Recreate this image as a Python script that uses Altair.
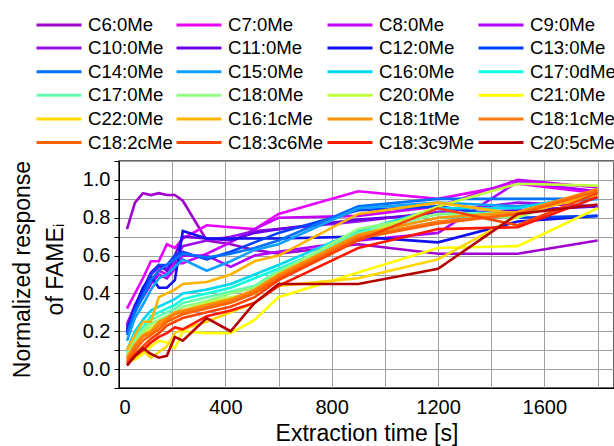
import altair as alt
import pandas as pd

times = [30, 60, 90, 120, 150, 180, 210, 240, 330, 420, 510, 600, 900, 1200, 1500, 1800]

names = ["C6:0Me", "C7:0Me", "C8:0Me", "C9:0Me",
         "C10:0Me", "C11:0Me", "C12:0Me", "C13:0Me",
         "C14:0Me", "C15:0Me", "C16:0Me", "C17:0dMe",
         "C17:0Me", "C18:0Me", "C20:0Me", "C21:0Me",
         "C22:0Me", "C16:1cMe", "C18:1tMe", "C18:1cMe",
         "C18:2cMe", "C18:3c6Me", "C18:3c9Me", "C20:5cMe"]

colors = ["#a000d0", "#e800ff", "#c800ff", "#b000ff",
          "#9a10f0", "#6a00e6", "#1010f0", "#0040ff",
          "#0070ff", "#10a0ff", "#00d8f0", "#10ffe0",
          "#60ffb0", "#90ff80", "#c0ff40", "#ffff00",
          "#ffd800", "#ffb400", "#ff9400", "#ff7c10",
          "#ff6400", "#ff4400", "#ff1800", "#b40000"]

s_C6 = [0.74, 0.88, 0.93, 0.92, 0.93, 0.92, 0.92, 0.89, 0.68, 0.66, 0.63, 0.61, 0.66, 0.61, 0.61, 0.68]
s_C7 = [0.32, 0.40, 0.48, 0.57, 0.57, 0.66, 0.64, 0.69, 0.76, 0.75, 0.74, 0.82, 0.94, 0.90, 0.98, 0.93]
s_C8 = [0.24, 0.33, 0.40, 0.46, 0.52, 0.50, 0.56, 0.56, 0.61, 0.67, 0.74, 0.80, 0.81, 0.86, 1.00, 0.96]
s_C9 = [0.22, 0.32, 0.38, 0.45, 0.50, 0.48, 0.53, 0.60, 0.60, 0.54, 0.60, 0.62, 0.68, 0.72, 0.99, 0.94]
s_C10 = [0.23, 0.34, 0.41, 0.50, 0.54, 0.53, 0.57, 0.65, 0.68, 0.70, 0.73, 0.74, 0.78, 0.83, 0.88, 0.86]
s_C11 = [0.21, 0.33, 0.42, 0.51, 0.55, 0.52, 0.60, 0.70, 0.69, 0.68, 0.72, 0.74, 0.79, 0.82, 0.84, 0.86]
s_C12 = [0.20, 0.33, 0.43, 0.49, 0.43, 0.43, 0.47, 0.73, 0.69, 0.69, 0.69, 0.69, 0.70, 0.67, 0.78, 0.81]
s_C13 = [0.19, 0.32, 0.40, 0.50, 0.55, 0.55, 0.60, 0.62, 0.58, 0.62, 0.67, 0.72, 0.84, 0.86, 0.80, 0.81]
s_C14 = [0.18, 0.30, 0.38, 0.47, 0.52, 0.55, 0.58, 0.61, 0.59, 0.61, 0.64, 0.68, 0.86, 0.90, 0.90, 0.90]
s_C15 = [0.15, 0.27, 0.34, 0.42, 0.48, 0.50, 0.54, 0.58, 0.52, 0.57, 0.63, 0.66, 0.85, 0.88, 0.86, 0.90]
s_C16 = [0.10, 0.20, 0.26, 0.31, 0.33, 0.35, 0.37, 0.40, 0.42, 0.45, 0.50, 0.55, 0.73, 0.85, 0.85, 0.93]
s_C17d = [0.09, 0.18, 0.22, 0.28, 0.30, 0.32, 0.34, 0.37, 0.40, 0.43, 0.48, 0.53, 0.71, 0.80, 0.82, 0.93]
s_C17 = [0.08, 0.17, 0.21, 0.26, 0.28, 0.30, 0.32, 0.35, 0.38, 0.41, 0.44, 0.52, 0.72, 0.82, 0.83, 0.94]
s_C18 = [0.07, 0.15, 0.20, 0.24, 0.26, 0.28, 0.30, 0.33, 0.36, 0.40, 0.43, 0.51, 0.74, 0.82, 0.80, 0.95]
s_C20 = [0.06, 0.13, 0.18, 0.22, 0.25, 0.27, 0.29, 0.31, 0.35, 0.38, 0.40, 0.50, 0.70, 0.86, 0.98, 0.97]
s_C21 = [0.04, 0.05, 0.08, 0.12, 0.15, 0.14, 0.11, 0.20, 0.19, 0.19, 0.26, 0.38, 0.51, 0.64, 0.65, 0.85]
s_C22 = [0.03, 0.06, 0.10, 0.06, 0.09, 0.12, 0.19, 0.21, 0.25, 0.30, 0.35, 0.44, 0.48, 0.58, 0.81, 0.94]
s_C161 = [0.10, 0.18, 0.25, 0.25, 0.38, 0.40, 0.42, 0.45, 0.46, 0.50, 0.57, 0.60, 0.82, 0.88, 0.82, 0.92]
s_C181t = [0.06, 0.13, 0.18, 0.20, 0.25, 0.27, 0.30, 0.31, 0.34, 0.37, 0.42, 0.50, 0.71, 0.80, 0.83, 0.95]
s_C181c = [0.05, 0.12, 0.17, 0.19, 0.23, 0.26, 0.29, 0.30, 0.33, 0.36, 0.41, 0.49, 0.70, 0.78, 0.82, 0.95]
s_C182 = [0.04, 0.10, 0.15, 0.18, 0.21, 0.25, 0.27, 0.29, 0.32, 0.35, 0.40, 0.48, 0.69, 0.77, 0.82, 0.94]
s_C183c6 = [0.03, 0.08, 0.12, 0.16, 0.19, 0.23, 0.25, 0.27, 0.30, 0.33, 0.38, 0.47, 0.68, 0.85, 0.76, 0.93]
s_C183c9 = [0.02, 0.07, 0.10, 0.14, 0.17, 0.19, 0.22, 0.21, 0.28, 0.31, 0.35, 0.44, 0.64, 0.74, 0.75, 0.91]
s_C205 = [0.02, 0.07, 0.11, 0.08, 0.06, 0.07, 0.17, 0.15, 0.27, 0.20, 0.35, 0.45, 0.45, 0.53, 0.82, 0.87]

series = [s_C6, s_C7, s_C8, s_C9, s_C10, s_C11, s_C12, s_C13, s_C14, s_C15,
          s_C16, s_C17d, s_C17, s_C18, s_C20, s_C21, s_C22, s_C161, s_C181t,
          s_C181c, s_C182, s_C183c6, s_C183c9, s_C205]

x_grid = [0, 200, 400, 600, 800, 1000, 1200, 1400, 1600, 1800]
y_grid = [-0.1, 0.0, 0.1, 0.2, 0.3, 0.4, 0.5, 0.6, 0.7, 0.8, 0.9, 1.0, 1.1]

rows = []
for i, (n, vals) in enumerate(zip(names, series)):
    for t, v in zip(times, vals):
        rows.append({"FAME": n, "order": i, "t": t, "v": v})
df = pd.DataFrame(rows)

# legend fills column by column: reorder so the rows read as in the reference
n_cols, n_rows = 4, 6
legend_values = [names[r * n_cols + c] for c in range(n_cols) for r in range(n_rows)]

FONT = "Liberation Sans"

chart = alt.Chart(df).mark_line(strokeWidth=2.6, clip=True).encode(
    x=alt.X("t:Q",
            scale=alt.Scale(domain=[0, 1862], nice=False, zero=False),
            axis=alt.Axis(title="Extraction time [s]", values=x_grid,
                          labelExpr="datum.value % 400 == 0 ? datum.value : ''",
                          tickSize=0, labelPadding=9, labelFontSize=20,
                          titleFontSize=23, titleFontWeight="normal",
                          titleBaseline="top", titleY=34,
                          gridColor="#a0a0a0", gridWidth=1,
                          domainColor="#000000", labelColor="#000000",
                          titleColor="#000000", labelFont=FONT, titleFont=FONT)),
    y=alt.Y("v:Q",
            scale=alt.Scale(domain=[-0.1, 1.1], nice=False, zero=False),
            axis=alt.Axis(title=["Normalized response", "of FAMEᵢ"], values=y_grid,
                          labelExpr="(abs(datum.value*10) % 2 < 0.01 && datum.value >= 0 && datum.value < 1.05) ? format(datum.value, '.1f') : ''",
                          tickSize=5, tickColor="#000000", labelPadding=4,
                          labelFontSize=20, titleFontSize=23, titleFontWeight="normal",
                          titleAngle=270, titleAlign="center", titleBaseline="top",
                          titleX=-108, titleY=108, titleLineHeight=33,
                          gridColor="#a0a0a0", gridWidth=1,
                          domainColor="#000000", labelColor="#000000",
                          titleColor="#000000", labelFont=FONT, titleFont=FONT)),
    color=alt.Color("FAME:N",
                    scale=alt.Scale(domain=names, range=colors),
                    sort=names,
                    legend=alt.Legend(title=None, orient="none", legendX=-84, legendY=-146,
                                      direction="vertical", values=legend_values,
                                      gridAlign="each",
                                      columns=n_cols, symbolType="stroke", symbolSize=2025,
                                      symbolStrokeWidth=3, labelFontSize=18.6, labelFont=FONT,
                                      labelColor="#000000", labelOffset=5, clipHeight=19,
                                      columnPadding=2, rowPadding=3.6, labelLimit=200)),
    order="order:Q",
    detail="FAME:N",
).properties(
    width=495, height=227,
    autosize=alt.AutoSizeParams(type="none"),
    padding={"left": 119, "top": 161, "right": 0, "bottom": 58},
).configure_view(stroke="#333333", strokeWidth=1.5)

chart.save("out.html", embed_options={"renderer": "svg", "actions": False})
